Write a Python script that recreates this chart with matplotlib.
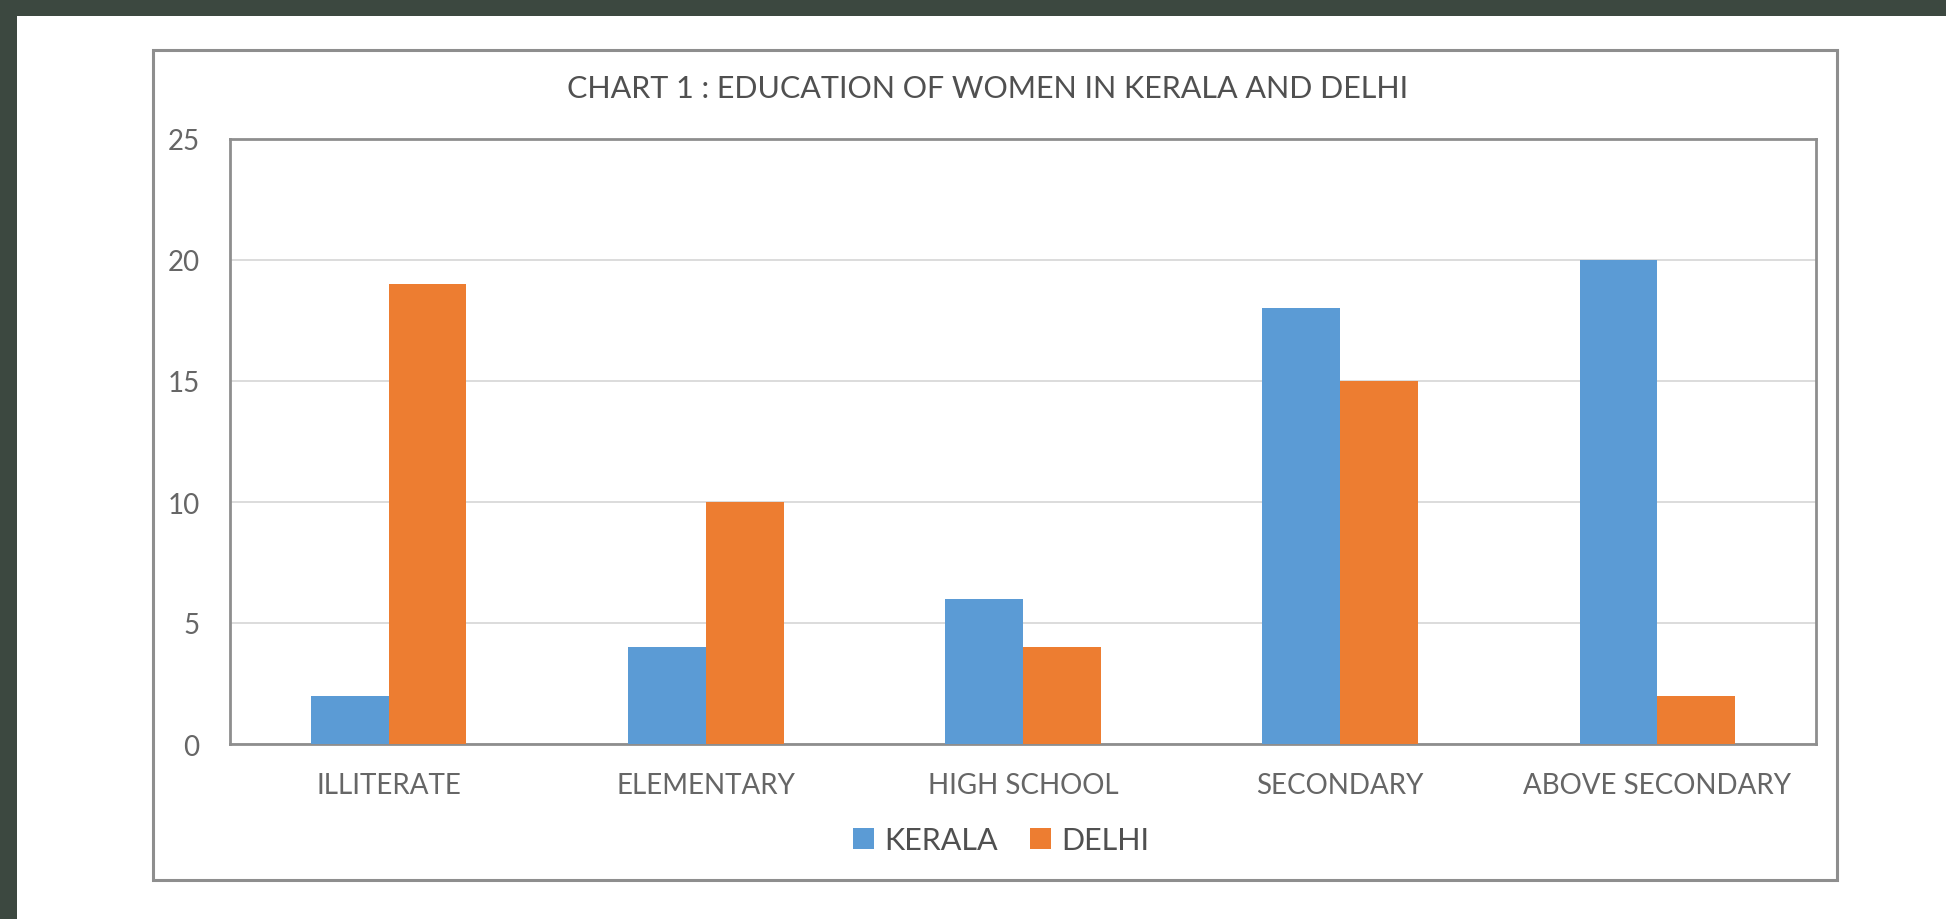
import matplotlib.pyplot as plt
import numpy as np
from matplotlib.patches import Rectangle

# education levels and counts per state
categories = ['ILLITERATE', 'ELEMENTARY', 'HIGH SCHOOL', 'SECONDARY', 'ABOVE SECONDARY']
kerala = [2, 4, 6, 18, 20]
delhi = [19, 10, 4, 15, 2]
y_ticks = [0, 5, 10, 15, 20, 25]

blue = '#5b9bd5'
orange = '#ed7d31'
frame_grey = '#8e8e8e'

plt.rcParams['font.family'] = ['Lato', 'DejaVu Sans']

fig = plt.figure(figsize=(19.46, 9.2), dpi=100)
fig.patch.set_facecolor('white')

# dark strip along the top and left edges
fig.patches.append(Rectangle((0, 1 - 17 / 920), 1, 17 / 920, transform=fig.transFigure,
                             facecolor='#3c4840', edgecolor='none', zorder=0))
fig.patches.append(Rectangle((0, 0), 17 / 1946, 1, transform=fig.transFigure,
                             facecolor='#3c4840', edgecolor='none', zorder=0))

# outer chart border
fig.patches.append(Rectangle((153 / 1946, 1 - 881 / 920), (1837 - 153) / 1946, (881 - 51) / 920,
                             transform=fig.transFigure, facecolor='none',
                             edgecolor=frame_grey, linewidth=2.2, zorder=1))

ax = fig.add_axes([230 / 1946, 1 - 745 / 920, (1816 - 230) / 1946, (745 - 140) / 920])

x = np.arange(len(categories))
w = 0.245
ax.bar(x - w / 2, kerala, width=w, color=blue, label='KERALA', zorder=3)
ax.bar(x + w / 2, delhi, width=w, color=orange, label='DELHI', zorder=3)

ax.set_xlim(-0.5, len(categories) - 0.5)
ax.set_ylim(0, 25)
ax.set_yticks(y_ticks)
ax.set_xticks(x)
ax.set_xticklabels(categories)
ax.yaxis.grid(True, color='#dcdcdc', linewidth=1.4, zorder=0)
ax.set_axisbelow(True)

for s in ax.spines.values():
    s.set_color(frame_grey)
    s.set_linewidth(2.0)

ax.tick_params(axis='x', length=0, pad=20, labelsize=20, labelcolor='#666666')
ax.tick_params(axis='y', length=0, pad=22, labelsize=20, labelcolor='#666666')

fig.text(567 / 1946, 1 - 98 / 920, 'CHART 1 : EDUCATION OF WOMEN IN KERALA AND DELHI',
         ha='left', va='baseline', fontsize=22, color='#505050')

fig.legend(loc='center', bbox_to_anchor=(1001 / 1946, 1 - 841 / 920), ncol=2, frameon=False,
           fontsize=22, labelcolor='#505050', handlelength=0.69, handleheight=0.69,
           handletextpad=0.33, columnspacing=1.05)

fig.savefig('out.png', dpi=100, facecolor=fig.get_facecolor())
